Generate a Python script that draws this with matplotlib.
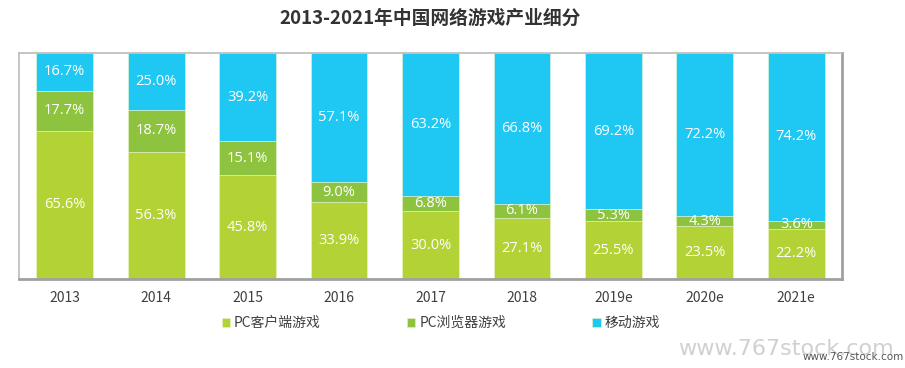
import matplotlib
matplotlib.use("Agg")
import matplotlib.pyplot as plt
import numpy as np

plt.rcParams['font.family'] = ['Noto Sans CJK SC', 'DejaVu Sans']

years = ['2013', '2014', '2015', '2016', '2017', '2018', '2019e', '2020e', '2021e']
pc_client = [65.6, 56.3, 45.8, 33.9, 30.0, 27.1, 25.5, 23.5, 22.2]
pc_browser = [17.7, 18.7, 15.1, 9.0, 6.8, 6.1, 5.3, 4.3, 3.6]
mobile = [16.7, 25.0, 39.2, 57.1, 63.2, 66.8, 69.2, 72.2, 74.2]
series_names = ['PC客户端游戏', 'PC浏览器游戏', '移动游戏']
colors = ['#B3D235', '#8DC33F', '#1FC8F2']
title = '2013-2021年中国网络游戏产业细分'

fig = plt.figure(figsize=(9.05, 3.68), dpi=100)
ax = fig.add_axes([19/905, 1-279/368, (842-19)/905, (279-53)/368])

x = np.arange(len(years))
w = 0.62
series = [pc_client, pc_browser, mobile]
bottom = np.zeros(len(years))
handles = []
for vals, c, name in zip(series, colors, series_names):
    vals = np.array(vals)
    b = ax.bar(x, vals, w, bottom=bottom, color=c, label=name,
               edgecolor='#E8F5C8', linewidth=0.4)
    handles.append(b)
    for xi, v, bt in zip(x, vals, bottom):
        ax.text(xi, bt + v/2, f'{v:.1f}%', ha='center', va='center',
                color='white', fontsize=10.5, family=['Open Sans', 'DejaVu Sans'])
    bottom = bottom + vals

ax.set_xlim(-0.5, len(years) - 0.5)
ax.set_ylim(0, 100)
ax.set_yticks([])
ax.set_xticks(x)
ax.set_xticklabels(years, fontsize=10, color='#404040')
ax.tick_params(axis='x', length=0, pad=9)
for side in ['left', 'top']:
    ax.spines[side].set_color('#BBBBBB')
    ax.spines[side].set_linewidth(1.2)
for side in ['right', 'bottom']:
    ax.spines[side].set_color('#A0A0A0')
    ax.spines[side].set_linewidth(2.0)

fig.text(430/905, 1-18/368, title, ha='center', va='center',
         fontsize=13.5, fontweight='bold', color='#333333')

leg = fig.legend(handles=handles, labels=series_names, loc='center',
                 bbox_to_anchor=(441/905, 1-323/368), ncol=3, frameon=False,
                 fontsize=10, handlelength=0.6, handleheight=0.6,
                 handletextpad=0.3, columnspacing=6.2, labelcolor='#404040')

fig.text(786/905, 1-349/368, 'www.767stock.com', ha='center', va='center',
         fontsize=16, color='#D0D0D0', family=['DejaVu Sans'])
fig.text(904/905, 1-357/368, 'www.767stock.com', ha='right', va='center',
         fontsize=7.5, color='#555555', family=['DejaVu Sans'])

fig.savefig('out.png', dpi=100)
